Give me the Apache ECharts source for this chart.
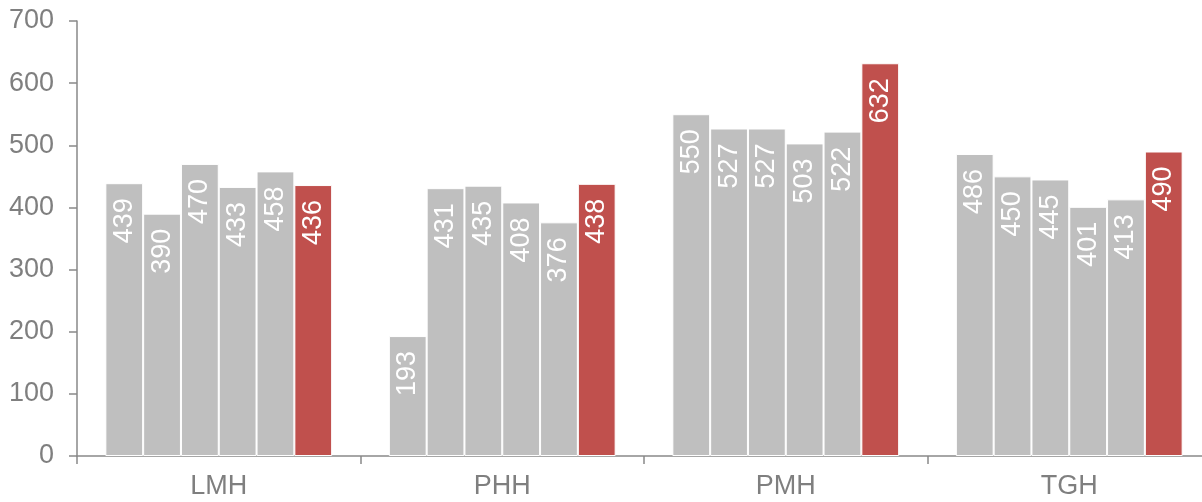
<!DOCTYPE html>
<html><head><meta charset="utf-8">
<script src="https://cdn.jsdelivr.net/npm/echarts@6/dist/echarts.min.js"></script>
<style>html,body{margin:0;padding:0;background:#fff}#c{width:1202px;height:502px}</style>
</head><body><div id="c"></div>
<script>
const categories = ['LMH', 'PHH', 'PMH', 'TGH'];
const s1 = [439, 193, 550, 486];
const s2 = [390, 431, 527, 450];
const s3 = [470, 435, 527, 445];
const s4 = [433, 408, 503, 401];
const s5 = [458, 376, 522, 413];
const s6 = [436, 438, 632, 490];
const yTicks = [0, 100, 200, 300, 400, 500, 600, 700];

const seriesData = [s1, s2, s3, s4, s5, s6];
const colors = ['#BFBFBF', '#BFBFBF', '#BFBFBF', '#BFBFBF', '#BFBFBF', '#C0504D'];
const font = 'Liberation Sans, Arial, sans-serif';

const chart = echarts.init(document.getElementById('c'), null, {renderer: 'canvas'});
chart.setOption({
  animation: false,
  grid: {left: 77, top: 21, width: 1134, bottom: 46, containLabel: false, outerBoundsMode: 'none'},
  xAxis: {
    type: 'category',
    data: categories,
    axisLine: {lineStyle: {color: '#898989', width: 1.5}},
    axisTick: {show: true, length: 8, lineStyle: {color: '#898989', width: 1.5}},
    axisLabel: {color: '#7f7f7f', fontSize: 27, fontFamily: font, margin: 17}
  },
  yAxis: {
    type: 'value',
    min: yTicks[0], max: yTicks[yTicks.length - 1], interval: 100,
    axisLine: {show: true, lineStyle: {color: '#898989', width: 1.5}},
    axisTick: {show: true, length: 8, lineStyle: {color: '#898989', width: 1.5}},
    splitLine: {show: false},
    axisLabel: {color: '#7f7f7f', fontSize: 27, fontFamily: font, margin: 23}
  },
  series: seriesData.map((d, i) => ({
    type: 'bar',
    name: 'S' + (i + 1),
    data: d,
    barGap: '0%',
    barCategoryGap: '20%',
    itemStyle: {color: colors[i], borderColor: '#ffffff', borderWidth: 1},
    label: {
      show: true,
      position: 'insideTop',
      rotate: 90,
      align: 'right',
      verticalAlign: 'middle',
      distance: 15,
      color: '#ffffff',
      fontSize: 27,
      fontFamily: font
    }
  }))
});
</script>
</body></html>
